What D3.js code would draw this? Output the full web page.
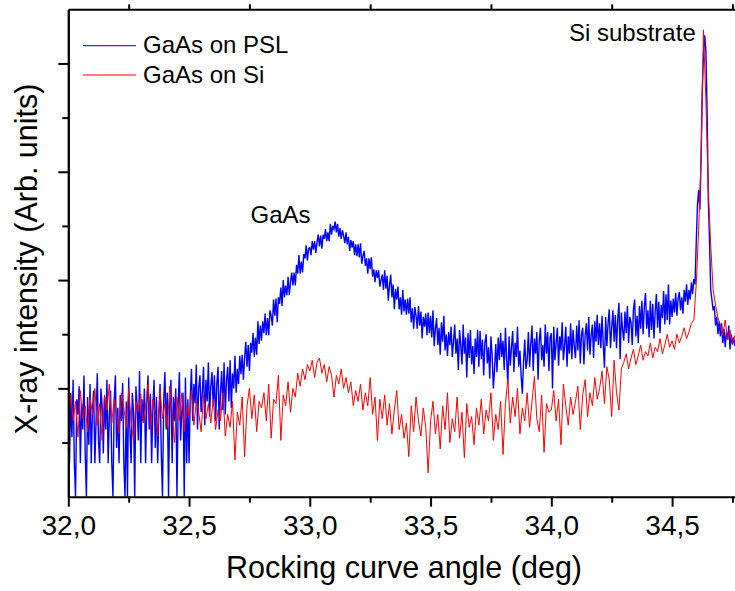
<!DOCTYPE html>
<html>
<head>
<meta charset="utf-8">
<script src="https://cdn.jsdelivr.net/npm/d3@7"></script>
<style>
  body { margin: 0; background: #fff; }
  svg { display: block; font-family: "Liberation Sans", Arial, sans-serif; }
</style>
</head>
<body>
<div id="chart"></div>
<script>
// scan parameters (deg)
const scanStart = 32.0;
const pslStep = 0.005;
const siStep = 0.01;

// GaAs on PSL, one row = 0.1 deg
const pslIntensity = [
  72, 31, 96, 55, 108, 31, 0, 90, 76, 102, 31, 86, 62, 112, 40, 0, 92, 48, 104, 31,
  80, 98, 31, 70, 114, 52, 31, 100, 84, 40, 92, 62, 108, 31, 75, 98, 31, 0, 88, 112,
  45, 82, 31, 94, 70, 105, 31, 0, 88, 0, 110, 62, 31, 96, 78, 0, 102, 84, 52, 116,
  31, 90, 70, 100, 31, 86, 112, 62, 95, 31, 80, 108, 45, 92, 31, 76, 104, 40, 0, 88,
  115, 62, 96, 0, 84, 108, 31, 92, 70, 100, 0, 86, 115, 52, 78, 96, 0, 110, 31, 90,
  31, 92, 118, 70, 104, 86, 122, 62, 100, 112, 78, 96, 120, 66, 108, 88, 124, 74, 102, 115,
  84, 112, 70, 104, 120, 62, 96, 116, 80, 124, 76, 108, 120, 88, 126, 82, 114, 100, 130, 96,
  118, 104, 130, 113, 131, 108, 128, 143, 120, 140, 116, 142, 133, 151, 129, 147, 131, 162, 141, 158,
  144, 162, 151, 169, 149, 165, 149, 172, 167, 158, 182, 167, 183, 161, 184, 178, 193, 176, 200, 184,
  195, 186, 203, 186, 198, 207, 195, 207, 195, 214, 206, 223, 206, 217, 207, 224, 220, 232, 218, 229,
  230, 223, 236, 228, 236, 225, 235, 242, 231, 241, 229, 242, 238, 247, 236, 244, 236, 252, 242, 250,
  247, 254, 244, 252, 240, 248, 238, 246, 241, 234, 244, 233, 240, 227, 237, 230, 236, 223, 233, 222,
  233, 221, 234, 215, 222, 227, 213, 220, 206, 220, 210, 221, 203, 210, 198, 209, 202, 209, 194, 200,
  205, 191, 209, 192, 204, 181, 195, 205, 184, 196, 173, 192, 182, 194, 173, 184, 168, 191, 171, 182,
  168, 183, 169, 184, 161, 174, 155, 175, 167, 155, 176, 158, 171, 146, 166, 157, 169, 149, 170, 151,
  167, 147, 172, 139, 155, 165, 140, 156, 131, 161, 143, 167, 135, 150, 130, 152, 140, 157, 129, 143,
  159, 132, 146, 117, 154, 140, 122, 159, 132, 147, 110, 151, 128, 154, 122, 139, 113, 146, 129, 154,
  120, 153, 127, 145, 112, 142, 150, 123, 138, 109, 148, 130, 100, 118, 141, 115, 147, 126, 151, 129,
  144, 117, 156, 127, 104, 148, 121, 138, 153, 115, 142, 129, 157, 120, 135, 112, 95, 124, 145, 118,
  126, 152, 120, 141, 158, 116, 146, 132, 152, 108, 144, 156, 126, 140, 120, 159, 132, 152, 116, 147,
  151, 100, 157, 126, 142, 156, 121, 148, 135, 161, 126, 140, 157, 120, 148, 132, 160, 127, 154, 139,
  128, 158, 135, 163, 123, 150, 156, 122, 149, 160, 135, 166, 131, 149, 159, 128, 162, 143, 168, 140,
  160, 137, 167, 141, 119, 166, 139, 160, 173, 137, 156, 172, 143, 168, 137, 164, 179, 127, 170, 154,
  144, 171, 151, 176, 142, 166, 161, 140, 173, 182, 148, 167, 142, 176, 155, 181, 150, 175, 188, 155,
  172, 147, 181, 154, 178, 146, 171, 187, 156, 180, 151, 177, 165, 190, 159, 187, 163, 196, 159, 181,
  166, 183, 170, 188, 167, 183, 189, 172, 184, 169, 191, 180, 196, 177, 191, 182, 198, 187, 201, 196,
  234, 269, 283, 265, 311, 375, 408, 426, 412, 357, 274, 237, 191, 182, 172, 176, 158, 166, 150, 162,
  148, 160, 142, 155, 138, 152, 145, 158, 136, 150, 141, 147, 139
];

// GaAs on Si, one row = 0.1 deg
const siIntensity = [
  62, 95, 70, 88, 55, 98, 72, 84, 60, 92,
  76, 100, 66, 86, 52, 94, 80, 104, 68, 90,
  74, 58, 96, 82, 64, 100, 70, 52, 88, 78,
  95, 68, 84, 104, 62, 90, 76, 56, 98, 72,
  86, 64, 102, 78, 50, 92, 70, 96, 60, 84,
  74, 98, 66, 88, 78, 60, 94, 72, 86, 68,
  90, 62, 80, 70, 96, 56, 76, 64, 88, 34,
  78, 66, 92, 37, 84, 100, 72, 94, 60, 88,
  82, 96, 70, 104, 54, 90, 86, 112, 52, 94,
  84, 106, 78, 100, 92, 114, 102, 118, 108, 122,
  116, 126, 110, 124, 128, 114, 122, 106, 120, 112,
  92, 112, 104, 118, 100, 110, 96, 106, 84, 98,
  88, 104, 80, 96, 84, 110, 76, 92, 52, 90,
  72, 94, 66, 86, 58, 80, 98, 62, 76, 54,
  68, 37, 84, 60, 92, 70, 56, 82, 64, 22,
  70, 88, 58, 76, 44, 84, 62, 96, 50, 72,
  60, 92, 54, 78, 36, 86, 64, 74, 48, 82,
  66, 90, 58, 80, 70, 96, 52, 76, 62, 88,
  39, 86, 108, 68, 92, 74, 100, 58, 82, 70,
  96, 64, 88, 111, 72, 60, 94, 41, 86, 78,
  80, 98, 70, 90, 48, 104, 84, 66, 92, 76,
  88, 102, 62, 94, 108, 74, 96, 84, 110, 90,
  100, 116, 86, 120, 108, 74, 126, 96, 80, 118,
  124, 132, 118, 128, 136, 122, 130, 140, 126, 134,
  130, 142, 128, 138, 134, 146, 132, 140, 150, 138,
  144, 136, 150, 142, 148, 156, 146, 152, 160, 163,
  196, 246, 311, 431, 366, 283, 232, 191, 177, 165,
  159, 149, 163, 145, 154, 140, 149
];

const xMajorTicks = [32.0, 32.5, 33.0, 33.5, 34.0, 34.5];
const xMinorTicks = [32.25, 32.75, 33.25, 33.75, 34.25, 34.75];
const yMajorTicks = [100, 200, 300, 400];
const yMinorTicks = [50, 150, 250, 350];
const seriesNames = ["GaAs on PSL", "GaAs on Si"];
const seriesColors = ["#0000ff", "#ff0000"];
const seriesWidths = [1.4, 1];

const W = 735, H = 591;
const plotLeft = 68.3, plotTop = 9.3, plotBottom = 496.7, plotRight = 739.7;

const svg = d3.select("#chart").append("svg")
  .attr("width", W)
  .attr("height", H);

const x = d3.scaleLinear().domain([32, 34.78]).range([plotLeft, plotRight]);
const y = d3.scaleLinear().domain([0, 450]).range([plotBottom, plotTop]);

svg.append("clipPath").attr("id", "plotclip")
  .append("rect")
  .attr("x", plotLeft).attr("y", plotTop)
  .attr("width", plotRight - plotLeft).attr("height", plotBottom - plotTop);

const lineFor = step => d3.line()
  .x((d, i) => x(scanStart + i * step))
  .y(d => y(d));

const plot = svg.append("g").attr("clip-path", "url(#plotclip)");

plot.append("path")
  .datum(pslIntensity)
  .attr("fill", "none")
  .attr("stroke", seriesColors[0])
  .attr("stroke-width", seriesWidths[0])
  .attr("d", lineFor(pslStep));

plot.append("path")
  .datum(siIntensity)
  .attr("fill", "none")
  .attr("stroke", seriesColors[1])
  .attr("stroke-width", seriesWidths[1])
  .attr("d", lineFor(siStep));

// axes
const fmt = d => d3.format(".1f")(d).replace(".", ",");

function styleAxis(g) {
  g.select(".domain").attr("stroke", "#000").attr("stroke-width", 2);
  g.selectAll(".tick line").attr("stroke", "#000").attr("stroke-width", 2);
}

svg.append("g")
  .attr("transform", `translate(0,${plotBottom})`)
  .call(d3.axisBottom(x).tickValues(xMinorTicks).tickSize(6).tickSizeOuter(0).tickFormat(""))
  .call(styleAxis);

const xAxis = svg.append("g")
  .attr("transform", `translate(0,${plotBottom})`)
  .call(d3.axisBottom(x).tickValues(xMajorTicks).tickSize(10).tickSizeOuter(0).tickPadding(8).tickFormat(fmt))
  .call(styleAxis);
xAxis.select(".domain").remove();
xAxis.selectAll(".tick text")
  .attr("fill", "#000")
  .style("font-size", "28px")
  .style("font-family", "'Liberation Sans', Arial, sans-serif");

svg.append("g")
  .attr("transform", `translate(0,${plotTop})`)
  .call(d3.axisTop(x).tickValues(xMinorTicks).tickSize(5).tickSizeOuter(0).tickFormat(""))
  .call(styleAxis);

svg.append("g")
  .attr("transform", `translate(${plotLeft},0)`)
  .call(d3.axisLeft(y).tickValues(yMinorTicks).tickSize(6).tickSizeOuter(0).tickFormat(""))
  .call(styleAxis);

svg.append("g")
  .attr("transform", `translate(${plotLeft},0)`)
  .call(d3.axisLeft(y).tickValues(yMajorTicks).tickSize(10).tickSizeOuter(0).tickFormat(""))
  .call(styleAxis);

// titles
svg.append("text")
  .attr("x", 404)
  .attr("y", 578)
  .attr("text-anchor", "middle")
  .style("font-size", "30.5px")
  .text("Rocking curve angle (deg)");

svg.append("text")
  .attr("transform", "translate(37,259) rotate(-90)")
  .attr("text-anchor", "middle")
  .style("font-size", "30.5px")
  .text("X-ray intensity (Arb. units)");

// peak labels
svg.append("text")
  .attr("x", 250.5).attr("y", 222.5)
  .style("font-size", "24px")
  .text("GaAs");

svg.append("text")
  .attr("x", 569).attr("y", 41)
  .style("font-size", "24px")
  .text("Si substrate");

// legend
const legend = svg.append("g");
seriesNames.forEach((name, i) => {
  const ly = 45.7 + i * 29.3;
  legend.append("line")
    .attr("x1", 83).attr("x2", 136)
    .attr("y1", ly).attr("y2", ly)
    .attr("stroke", seriesColors[i])
    .attr("stroke-width", 1);
  legend.append("text")
    .attr("x", 143)
    .attr("y", ly + 7.5)
    .style("font-size", "24px")
    .text(name);
});
</script>
</body>
</html>
